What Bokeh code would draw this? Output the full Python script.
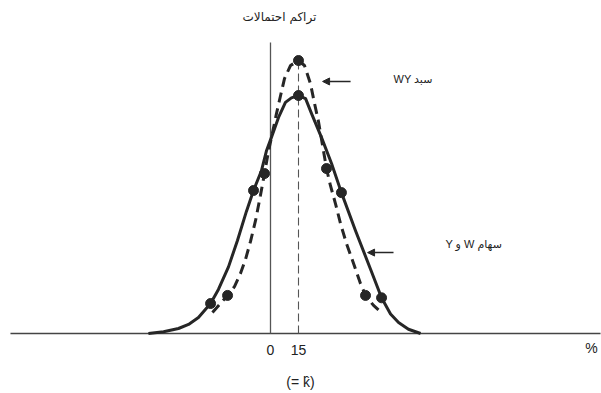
from bokeh.plotting import figure
from bokeh.models import Range1d, Label, Arrow, NormalHead
from bokeh.embed import file_html
from bokeh.resources import INLINE

# Return (%) on the horizontal axis; relative probability on the vertical
# Solid curve: shares W and Y held separately
solid_x = [-65.4, -57.3, -49.3, -43.9, -38.6, -32.1, -27.9, -22.5, -17.7, -12.9,
           -9.1, -4.8, -2.1, 0.5, 4.3, 8.0, 11.2, 15.0,
           18.8, 22.0, 27.3, 32.7, 38.0, 45.5, 53.6, 59.5, 64.3, 68.6, 73.9, 80.4]
solid_y = [0.0, 0.7, 2.1, 3.8, 6.7, 12.6, 18.5, 28.0, 39.1, 51.3,
           60.1, 68.5, 76.9, 82.4, 90.8, 97.1, 99.0, 100.0,
           98.7, 92.4, 82.4, 71.4, 59.2, 43.3, 27.0, 15.0, 8.2, 4.6, 1.8, 0.0]

# Dashed curve: the WY portfolio
dashed_x = [-31.1, -26.8, -23.0, -19.3, -16.1, -13.4, -10.7, -8.0, -5.4, -3.2,
            -1.1, 1.1, 3.2, 5.4, 7.5, 10.7, 15.0,
            18.2, 21.4, 23.6, 25.7, 27.9, 30.0, 32.1, 34.8, 37.5, 40.7, 44.5,
            48.2, 50.9, 55.2, 60.0]
dashed_y = [8.8, 12.6, 16.0, 19.7, 25.2, 31.1, 38.7, 47.5, 58.0, 67.2,
            76.5, 84.5, 92.4, 100.0, 107.1, 112.6, 114.7,
            112.6, 105.0, 96.6, 89.1, 79.0, 69.3, 62.2, 54.6, 46.2, 37.8, 29.4,
            21.0, 16.0, 11.8, 8.4]

# Marked points on each curve
solid_dot_x = [-32.1, -9.1, 15.0, 38.0, 59.5]
solid_dot_y = [12.6, 60.1, 100.0, 59.2, 15.0]
dashed_dot_x = [-23.0, -3.2, 15.0, 30.0, 50.9]
dashed_dot_y = [16.0, 67.2, 114.7, 69.3, 16.0]

tick_values = [0, 15]
tick_labels = ["0", "15"]
expected_return = 15

INK = "#262626"
THIN = "#555555"
LATIN = "Liberation Sans, DejaVu Sans"

p = figure(width=601, height=393,
           x_range=Range1d(-144.64, 177.32), y_range=Range1d(-25.21, 139.92),
           x_axis_type=None, y_axis_type=None,
           output_backend="svg", toolbar_location=None, min_border=0)
p.grid.visible = False
p.outline_line_color = None
p.background_fill_color = "white"
p.border_fill_color = "white"

# baseline and the two verticals
p.segment(x0=[-139.3], y0=[0], x1=[176.8], y1=[0], line_color="#444444", line_width=1.6)
p.segment(x0=[0], y0=[0], x1=[0], y1=[122.3], line_color=THIN, line_width=1.3)
p.segment(x0=[expected_return], y0=[0], x1=[expected_return], y1=[114.0],
          line_color=THIN, line_width=1.1, line_dash="8 4")

# distributions
p.line(solid_x, solid_y, line_color=INK, line_width=3, line_join="round")
p.line(dashed_x, dashed_y, line_color=INK, line_width=3, line_dash="10 6")
p.scatter(solid_dot_x, solid_dot_y, size=10, color=INK)
p.scatter(dashed_dot_x, dashed_dot_y, size=10, color=INK)

# pointer arrows
for xs, xe, yy in [(42.9, 27.9, 105.9), (65.9, 52.0, 34.0)]:
    p.add_layout(Arrow(end=NormalHead(size=7, fill_color=INK, line_color=INK),
                       x_start=xs, y_start=yy, x_end=xe, y_end=yy,
                       line_color=INK, line_width=1.5))

def label(x, y, text, size, align="center", font=LATIN):
    p.add_layout(Label(x=x, y=y, text=text, text_font=font,
                       text_font_size=size, text_align=align,
                       text_baseline="middle", text_color="#222222"))

label(4.8, 132.8, "تراكم احتمالات", "12px", font="DejaVu Sans")
label(65.9, 107.0, "WY سبد", "11px", align="left")
label(93.7, 37.8, "Y و W سهام", "11px", align="left")
for v, t in zip(tick_values, tick_labels):
    label(v, -7.1, t, "14px")
label(16.1, -20.2, "(= k\u0302)", "14px")
label(172.0, -5.9, "%", "14px")

open("out.html", "w").write(file_html(p, INLINE))
